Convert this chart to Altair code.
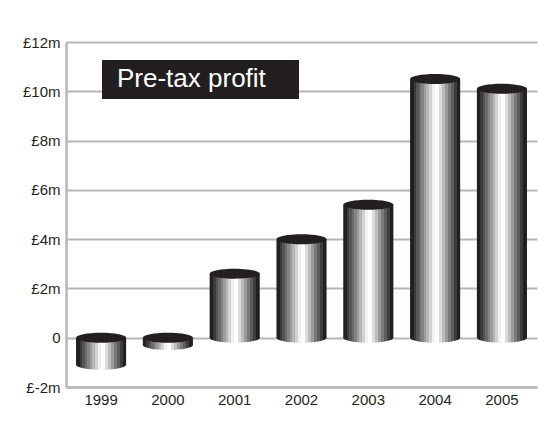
import altair as alt
import pandas as pd

# ---- data ----
years = ["1999", "2000", "2001", "2002", "2003", "2004", "2005"]
profit = [-1.1, -0.3, 2.6, 4.0, 5.4, 10.5, 10.1]
y_ticks = [-2, 0, 2, 4, 6, 8, 10, 12]
y_tick_labels = ["£-2m", "0", "£2m", "£4m", "£6m", "£8m", "£10m", "£12m"]
title_text = ["Pre-tax profit"]

df = pd.DataFrame({"year": years, "profit": profit})

# ---- style ----
FONT = "Liberation Sans"
DARK = "#231f20"
GRID = "#b6b6b9"

band_colors = ["#231f20", "#3c3a3b", "#555555", "#6c6c6c", "#848484", "#9c9c9c",
               "#b6b6b6", "#d2d2d2", "#f2f2f2", "#ffffff", "#dcdcdc", "#bcbcbc",
               "#9a9a9a", "#7a7a7a", "#5c5c5c", "#3e3c3d", "#231f20"]
edges = [0.0, 0.07, 0.12, 0.17, 0.22, 0.27, 0.32, 0.37, 0.43, 0.49, 0.57, 0.63,
         0.69, 0.75, 0.81, 0.87, 0.93, 1.0]
stops = []
for c, a, b in zip(band_colors, edges[:-1], edges[1:]):
    stops.append(alt.GradientStop(offset=a, color=c))
    stops.append(alt.GradientStop(offset=b, color=c))
grad = alt.LinearGradient(gradient="linear", stops=stops, x1=0, x2=1, y1=0, y2=0)

ellipse = "M -1 0 A 1 0.2 0 1 0 1 0 A 1 0.2 0 1 0 -1 0 Z"
PLOT_W, PLOT_H = 471, 345
P_IN, P_OUT = 0.25, 0.15
step = PLOT_W / (len(years) - P_IN + 2 * P_OUT)
bw = step * (1 - P_IN)
sym_size = bw * bw

label_expr = "".join(f"datum.value == {v} ? '{l}' : " for v, l in zip(y_ticks, y_tick_labels)) + "''"

xenc = alt.X("year:N", sort=years,
             scale=alt.Scale(paddingInner=P_IN, paddingOuter=P_OUT),
             axis=alt.Axis(title=None, labelAngle=0, ticks=False, labelPadding=5,
                           grid=False))
yscale = alt.Scale(domain=[-2, 12], nice=False, zero=False)
yaxis = alt.Axis(values=y_ticks, title=None, ticks=False, labelPadding=6,
                 labelExpr=label_expr, grid=True)

base = alt.Chart(df).transform_calculate(
    top="max(datum.profit, 0)", bot="min(datum.profit, 0)"
)

bottom_ell = base.mark_point(shape=ellipse, size=sym_size, filled=True, fill=grad,
                             opacity=1, strokeWidth=0).encode(
    x=xenc, y=alt.Y("bot:Q", scale=yscale, axis=yaxis))

bars = base.mark_bar(fill=grad, opacity=1).encode(
    x=xenc,
    y=alt.Y("profit:Q", scale=yscale, axis=yaxis),
    y2=alt.datum(0),
)

top_ell = base.mark_point(shape=ellipse, size=sym_size, filled=True, fill=DARK,
                          opacity=1, strokeWidth=0).encode(
    x=xenc, y=alt.Y("top:Q", scale=yscale, axis=yaxis))

ann = alt.Chart(pd.DataFrame({"t": title_text}))
box = ann.mark_rect(color=DARK).encode(
    x=alt.value(36), x2=alt.value(233), y=alt.value(18), y2=alt.value(57))
txt = ann.mark_text(align="left", baseline="alphabetic", font=FONT, fontSize=26,
                    color="white").encode(
    x=alt.value(51), y=alt.value(45), text="t:N")

chart = alt.layer(bottom_ell, bars, top_ell, box, txt).properties(
    width=PLOT_W, height=PLOT_H,
    autosize=alt.AutoSizeParams(type="none"),
    padding={"left": 58, "top": 34, "right": 12, "bottom": 30},
    background="white",
).configure_view(stroke=None).configure_axis(
    domainColor=GRID, domainWidth=2.5, gridColor=GRID, gridWidth=2,
    labelFont=FONT, labelFontSize=15, labelColor=DARK,
)

chart.save("out.html", embed_options={"renderer": "svg", "actions": False})
